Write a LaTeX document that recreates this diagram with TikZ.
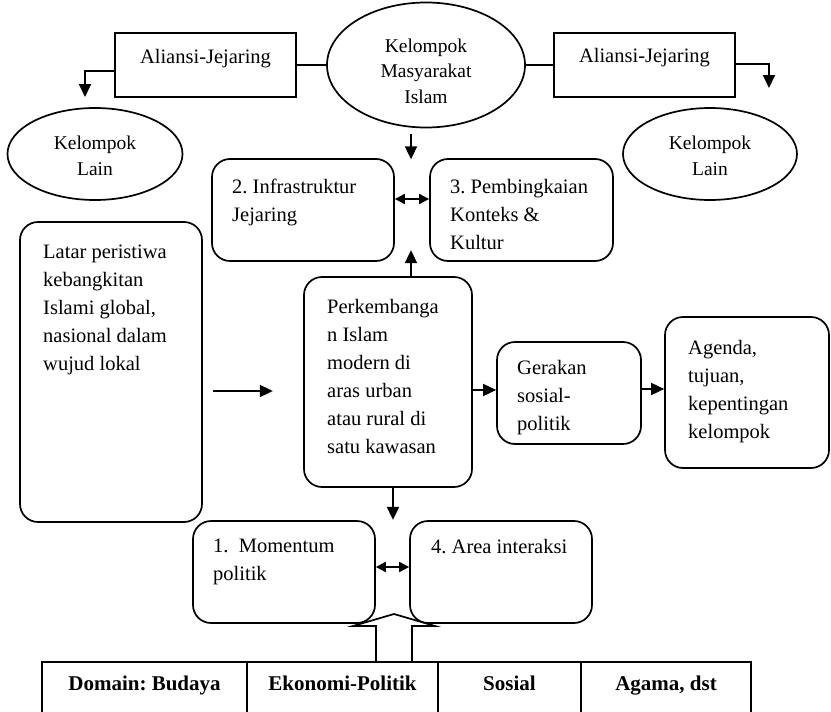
\documentclass[tikz,border=0pt]{standalone}
\usepackage{fontspec}
\setmainfont{Liberation Serif}
\frenchspacing
\usetikzlibrary{arrows.meta,shapes.geometric,positioning}

\begin{document}
\begin{tikzpicture}[x=1pt, y=-1pt,
  sbox/.style={draw, line width=1.7pt},
  rbox/.style={draw, line width=1.7pt, rounded corners=18pt},
  ell/.style={draw, ellipse, line width=1.7pt},
  txt/.style={inner sep=0pt, align=left, anchor=north west, font=\fontsize{20.5}{28}\selectfont},
  btxt/.style={inner sep=0pt, anchor=base, font=\fontsize{20.5}{28}\selectfont},
  etxt/.style={inner sep=0pt, align=center, font=\fontsize{19.5}{25.5}\selectfont},
  cell/.style={draw, line width=1.1pt, outer sep=0pt, anchor=north west, inner xsep=0pt, inner ysep=14pt,
    text height=14pt, text depth=22pt, font=\fontsize{21}{24}\selectfont\bfseries},
  line/.style={line width=1.7pt},
  arr/.style={line width=1.8pt, -{Triangle[length=13pt, width=12pt]}},
  darr/.style={line width=1.8pt, {Triangle[length=10pt, width=10pt]}-{Triangle[length=10pt, width=10pt]}},
  hollow/.style={line width=1.7pt}
]
\useasboundingbox (0,0) rectangle (831,712);

% Top row
\node [sbox, minimum width=181, minimum height=64] (alL) at (205.5,65) {};
\node [btxt] at (205.5,63) {Aliansi-Jejaring};
\node [ell, minimum width=198, minimum height=125] (kms) at (426,65) {};
\node [etxt] at (426,71) {Kelompok\\Masyarakat\\Islam};
\node [sbox, minimum width=181, minimum height=64] (alR) at (644.5,65) {};
\node [btxt] at (644.5,62) {Aliansi-Jejaring};

\node [ell, minimum width=175, minimum height=92] (klL) at (95,154) {};
\node [etxt] at (95,156) {Kelompok\\Lain};
\node [ell, minimum width=174, minimum height=92] (klR) at (710,154) {};
\node [etxt] at (710,156) {Kelompok\\Lain};

\draw [line] (alL) -- (kms);
\draw [line] (kms) -- (alR);
\coordinate (tipL) at (85,97);
\coordinate (tipR) at (769,88);
\draw [arr] ([shift={(0,6)}]alL.west) -| (tipL);
\draw [arr] ([shift={(0,-1)}]alR.east) -| (tipR);

% Middle row
\node [rbox, minimum width=182, minimum height=102] (infra) at (303,210) {};
\node [txt] at (232,179) {2. Infrastruktur\\Jejaring};
\node [rbox, minimum width=183, minimum height=102] (frame) at (521.5,210) {};
\node [txt] at (450,179) {3. Pembingkaian\\Konteks \&\\Kultur};
\draw [arr] ([shift={(-15,6)}]kms.south) -- ++(0,25);
\draw [darr] ([shift={(0,-11)}]infra.east) -- ([shift={(0,-11)}]frame.west);

\node [rbox, minimum width=182, minimum height=300] (bg) at (111,372) {};
\node [txt] at (43,245) {Latar peristiwa\\kebangkitan\\Islami global,\\nasional dalam\\wujud lokal};
\draw [arr] ([shift={(10,19)}]bg.east) -- ++(60,0);

\node [rbox, minimum width=168, minimum height=210] (dev) at (388,382) {};
\node [txt] at (327,299) {Perkembanga\\n Islam\\modern di\\aras urban\\atau rural di\\satu kawasan};
\draw [arr] ([shift={(23,0)}]dev.north) -- ++(0,-26);

\node [rbox, minimum width=144, minimum height=102] (mov) at (569,393) {};
\node [txt] at (517,360) {Gerakan\\sosial-\\politik};
\node [rbox, minimum width=164, minimum height=151] (goal) at (747,392.5) {};
\node [txt] at (688,340) {Agenda,\\tujuan,\\kepentingan\\kelompok};
\coordinate (mw) at ([shift={(0,-3)}]mov.west);
\coordinate (me) at ([shift={(0,-4)}]mov.east);
\draw [arr] (mw -| dev.east) -- (mw);
\draw [arr] (me) -- (me -| goal.west);
\draw [arr] ([shift={(5,0)}]dev.south) -- ++(0,32);

% Bottom row
\node [rbox, minimum width=182, minimum height=102] (mom) at (284,572) {};
\node [txt] at (213,539) {1.\ \ Momentum\\politik};
\node [rbox, minimum width=182, minimum height=102] (area) at (501,572) {};
\node [txt] at (431,539) {4. Area interaksi};
\draw [darr] ([shift={(0,-5)}]mom.east) -- ([shift={(0,-5)}]area.west);

% Domain table
\node [cell, minimum width=205] (dom) at (42,662) {Domain: Budaya};
\node [cell, minimum width=191, right=0pt of dom] (eko) {Ekonomi-Politik};
\node [cell, minimum width=143, right=0pt of eko] (sos) {Sosial};
\node [cell, minimum width=170, right=0pt of sos] (aga) {Agama, dst};

% Hollow arrow
\draw [hollow] (376,662) -- (376,626) -- (353,626) -- (394,614) -- (435,626) -- (412,626) -- (412,662);

\end{tikzpicture}
\end{document}
